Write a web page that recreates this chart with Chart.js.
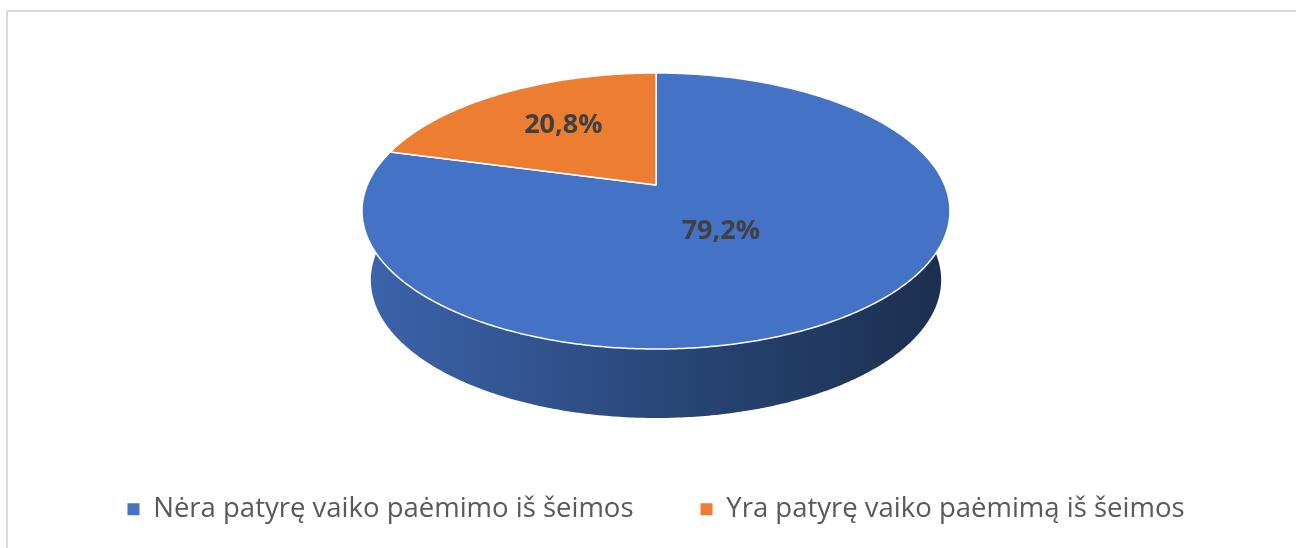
<!DOCTYPE html>
<html><head><meta charset="utf-8">
<script src="https://cdn.jsdelivr.net/npm/chart.js@4.4.1/dist/chart.umd.min.js"></script>
<style>
html,body{margin:0;padding:0;background:#fff;width:1296px;height:548px;overflow:hidden}
#frame{position:absolute;left:6px;top:10px;width:1300px;height:560px;border:2px solid #d9d9d9;box-sizing:border-box;background:#fff}
#wrap{position:absolute;left:0;top:0;width:1296px;height:540px}
</style></head><body>
<div id="frame"><div id="wrap"><canvas id="c"></canvas></div></div>
<script>
// ---- data ----
const categories = ['Nėra patyrę vaiko paėmimo iš šeimos', 'Yra patyrę vaiko paėmimą iš šeimos'];
const shares = [79.2, 20.8];
const valueLabels = ['79,2%', '20,8%'];
const sliceColors = ['#4472C4', '#ED7D31'];

// ---- presentation ----
const FONT = "'Open Sans', 'DejaVu Sans', sans-serif";
const view = { cx: 648, cy: 173, rx: 288.7, ry: 133.1, persp: 0.1884, depth: 69, bottomShrink: 0.97,
               frontFrom: -0.35, frontTo: Math.PI + 0.35 };
const labelNudge = [[-30, -11], [-11, -11]];
const sideShade = [[0, 0.88], [0.5, 0.62], [1, 0.40]];

function shade(hex, k) {
  const n = parseInt(hex.slice(1), 16);
  const r = Math.round(((n >> 16) & 255) * k), g = Math.round(((n >> 8) & 255) * k), b = Math.round((n & 255) * k);
  return `rgb(${r},${g},${b})`;
}
function project(ang, rf, bottom) {
  const u = Math.cos(ang) * rf, v = Math.sin(ang) * rf;
  const s = 1 / (1 - view.persp * v);
  let x = view.cx + view.rx * u * s, y = view.cy + view.ry * v * s;
  if (bottom) { x = view.cx + (x - view.cx) * view.bottomShrink; y += view.depth; }
  return [x, y];
}

const pie3d = {
  id: 'pie3d',
  beforeDatasetsDraw(chart) {
    const ctx = chart.ctx;
    const meta = chart.getDatasetMeta(0);
    const arcs = meta.data.map((el, i) => {
      const p = el.getProps(['startAngle', 'endAngle'], true);
      return { start: p.startAngle, end: p.endAngle, color: el.options.backgroundColor || sliceColors[i], i };
    });
    ctx.save();
    // sides
    arcs.forEach(a => {
      for (let k = -1; k <= 1; k++) {
        const lo = Math.max(a.start, view.frontFrom + 2 * Math.PI * k);
        const hi = Math.min(a.end, view.frontTo + 2 * Math.PI * k);
        if (hi <= lo) continue;
        const N = Math.max(8, Math.ceil((hi - lo) / 0.01));
        ctx.beginPath();
        for (let j = 0; j <= N; j++) {
          const [x, y] = project(lo + (hi - lo) * j / N, 1, false);
          j === 0 ? ctx.moveTo(x, y) : ctx.lineTo(x, y);
        }
        for (let j = N; j >= 0; j--) {
          const [x, y] = project(lo + (hi - lo) * j / N, 1, true);
          ctx.lineTo(x, y);
        }
        ctx.closePath();
        const g = ctx.createLinearGradient(view.cx - view.rx * 1.02, 0, view.cx + view.rx * 1.02, 0);
        sideShade.forEach(([t, f]) => g.addColorStop(t, shade(a.color, f)));
        ctx.fillStyle = g;
        ctx.fill();
      }
    });
    // top faces
    arcs.forEach(a => {
      const N = Math.max(8, Math.ceil((a.end - a.start) / 0.01));
      ctx.beginPath();
      ctx.moveTo(view.cx, view.cy);
      for (let j = 0; j <= N; j++) {
        const [x, y] = project(a.start + (a.end - a.start) * j / N, 1, false);
        ctx.lineTo(x, y);
      }
      ctx.closePath();
      ctx.fillStyle = a.color;
      ctx.fill();
      ctx.lineWidth = 1.5;
      ctx.strokeStyle = '#ffffff';
      ctx.lineJoin = 'round';
      ctx.stroke();
    });
    // labels
    ctx.font = `bold 27px ${FONT}`;
    ctx.fillStyle = '#404040';
    ctx.textAlign = 'center';
    ctx.textBaseline = 'middle';
    arcs.forEach(a => {
      const mid = (a.start + a.end) / 2;
      const [x, y] = project(mid, 0.5, false);
      ctx.fillText(valueLabels[a.i], x + labelNudge[a.i][0], y + labelNudge[a.i][1]);
    });
    ctx.restore();
    return false;
  }
};

new Chart(document.getElementById('c'), {
  type: 'pie',
  data: {
    labels: categories,
    datasets: [{ data: shares, backgroundColor: sliceColors, borderWidth: 0 }]
  },
  options: {
    responsive: true,
    maintainAspectRatio: false,
    animation: false,
    layout: { padding: { bottom: 19 } },
    plugins: {
      tooltip: { enabled: false },
      legend: {
        position: 'bottom',
        labels: {
          boxWidth: 12, boxHeight: 12, padding: 67, color: '#595959',
          font: { family: FONT, size: 27.5 }
        }
      }
    }
  },
  plugins: [pie3d]
});
</script>
</body></html>
